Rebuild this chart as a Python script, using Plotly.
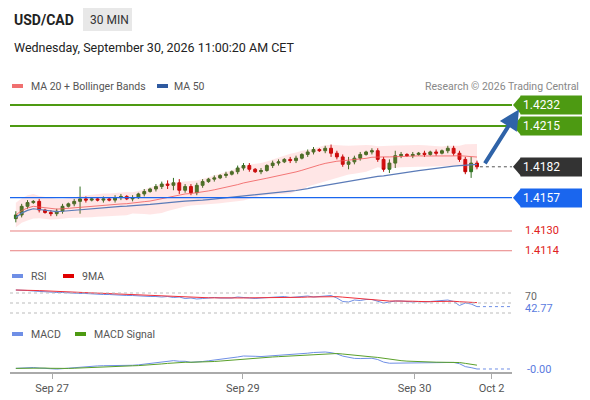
import numpy as np
import pandas as pd
import plotly.graph_objects as go

# closes in pips above 1.4100, one per 30-min candle
closes_pips = [43, 50, 53, 54, 47, 45, 44, 46, 50, 52, 54, 56, 55, 56, 55, 56, 55, 57, 58, 56,
               57, 60, 62, 64, 66, 68, 67, 69, 63, 66, 61, 67, 70, 72, 73, 75, 76, 78, 81, 83,
               80, 78, 79, 83, 85, 86, 88, 87, 89, 92, 94, 96, 95, 97, 93, 90, 84, 86, 89, 92,
               94, 95, 88, 80, 85, 91, 92, 91, 92, 93, 92, 94, 93, 95, 97, 93, 88, 78, 85, 82]
wick_pips = [3, 2, 2, 1, 2, 1, 2, 2, 2, 1, 2, 10, 2, 1, 1, 2, 1, 2, 2, 1,
             2, 1, 2, 1, 2, 2, 3, 4, 3, 2, 2, 2, 2, 1, 2, 1, 2, 1, 2, 2,
             2, 1, 2, 1, 2, 2, 1, 2, 2, 1, 2, 2, 1, 2, 3, 2, 2, 4, 2, 2,
             1, 2, 2, 2, 3, 4, 2, 1, 2, 1, 2, 1, 2, 1, 2, 2, 2, 2, 5, 2]
rsi_vals = [76, 76, 75, 74, 73, 72, 72, 71, 71, 70, 70, 69, 69, 68, 68, 67, 67, 66, 66, 65,
            65, 64, 64, 63, 63, 62, 63, 61, 62, 59, 60, 58, 59, 60, 61, 60, 60, 60, 62, 61,
            60, 59, 60, 61, 62, 62, 63, 61, 62, 63, 64, 62, 63, 64, 65, 60, 53, 52, 56, 55,
            57, 57, 53, 50, 52, 54, 54, 53, 52, 53, 52, 53, 54, 55, 56, 53, 45, 50, 48, 42.77]
tick_pos = [6.2, 38.9, 68.3, 81.5]
tick_text = ["Sep 27", "Sep 29", "Sep 30", "Oct 2"]
level_tags = [1.4232, 1.4215, 1.4182, 1.4157]
red_levels = [1.4130, 1.4114]
last_price = 1.4182
rsi_last = "42.77"


def px(v):
    return (v - 8) / 590


def py(v):
    return 1 - (v - 8) / 400


close = 1.41 + np.array(closes_pips) / 10000
wick = np.array(wick_pips) / 10000
opn = np.concatenate([[close[0] - 0.0003], close[:-1]])
high = np.maximum(opn, close) + wick
low = np.minimum(opn, close) - wick
x = np.arange(len(close))
s = pd.Series(close)

ma20 = s.rolling(20, min_periods=1).mean()
sd20 = s.rolling(20, min_periods=2).std().bfill()
ma50 = s.rolling(50, min_periods=1).mean() - 0.0002
up, dn = ma20 + 2 * sd20, ma20 - 2 * sd20

rsi = pd.Series(rsi_vals)
rsi9 = rsi.rolling(9, min_periods=1).mean()
macd = s.ewm(span=12).mean() - s.ewm(span=26).mean()
sig = macd.ewm(span=9).mean()

# MACD scale: last value near the panel floor, peak a bit above the middle
m_last, m_max = float(macd.iloc[-1]), float(macd.max())
span = (m_max - m_last) / (0.625 - 0.094)
m_lo = m_last - 0.094 * span
m_hi = m_lo + span

fig = go.Figure()
fig.add_trace(go.Scatter(x=x, y=up, line=dict(width=0), hoverinfo="skip"))
fig.add_trace(go.Scatter(x=x, y=dn, line=dict(width=0), fill="tonexty",
                         fillcolor="rgba(255,90,90,0.15)", hoverinfo="skip"))
fig.add_trace(go.Scatter(x=x, y=ma20, line=dict(color="rgba(240,90,90,0.8)", width=1)))
fig.add_trace(go.Scatter(x=x, y=ma50, line=dict(color="#5b7bb8", width=1.2)))
fig.add_trace(go.Candlestick(x=x, open=opn, high=high, low=low, close=close,
                             increasing=dict(line=dict(color="#2f6e1f", width=1), fillcolor="#2f7d1f"),
                             decreasing=dict(line=dict(color="#c00000", width=1), fillcolor="#d00000"),
                             whiskerwidth=0))
fig.add_trace(go.Scatter(x=x, y=rsi, yaxis="y2", line=dict(color="#6f8fe6", width=1)))
fig.add_trace(go.Scatter(x=x, y=rsi9, yaxis="y2", line=dict(color="#f0303a", width=1)))
fig.add_trace(go.Scatter(x=x, y=macd, yaxis="y3", line=dict(color="#6f8fe6", width=1)))
fig.add_trace(go.Scatter(x=x, y=sig, yaxis="y3", line=dict(color="#5aa02a", width=1)))

x0p, x1p = px(10), px(512)
shapes = []
for lv, col, w in [(1.4232, "#4d9a12", 2), (1.4215, "#4d9a12", 2), (1.4157, "#1a66ee", 1.2)]:
    shapes.append(dict(type="line", xref="paper", yref="y", x0=x0p, x1=x1p, y0=lv, y1=lv,
                       line=dict(color=col, width=w)))
for lv in red_levels:
    shapes.append(dict(type="line", xref="paper", yref="y", x0=x0p, x1=x1p, y0=lv, y1=lv,
                       line=dict(color="#e88080", width=1)))
shapes.append(dict(type="line", xref="x", yref="y", x0=len(x) - 0.5, x1=86, y0=last_price, y1=last_price,
                   line=dict(color="#555", width=1, dash="dot")))
for yy in [70, 50, 30]:
    shapes.append(dict(type="line", xref="paper", yref="y2", x0=x0p, x1=x1p, y0=yy, y1=yy,
                       line=dict(color="#bbb", width=1, dash="dot")))
shapes.append(dict(type="line", xref="x", yref="y2", x0=len(x) - 1, x1=85, y0=42.77, y1=42.77,
                   line=dict(color="#6f8fe6", width=1, dash="dot")))
shapes.append(dict(type="line", xref="x", yref="y3", x0=len(x) - 1, x1=85, y0=m_last, y1=m_last,
                   line=dict(color="#6f8fe6", width=1, dash="dot")))
# 30 MIN box
shapes.append(dict(type="rect", xref="paper", yref="paper", x0=px(83), x1=px(132), y0=py(31), y1=py(8),
                   fillcolor="#e8e8e8", line=dict(width=0)))

anns = [
    dict(x=px(12), y=py(20), text="<b>USD/CAD</b>", font=dict(size=14, color="#222")),
    dict(x=px(88), y=py(20), text="30 MIN", font=dict(size=12, color="#333")),
    dict(x=px(12), y=py(47), text="Wednesday, September 30, 2026 11:00:20 AM CET", font=dict(size=12.5, color="#222")),
    dict(x=px(29), y=py(86), text="MA 20 + Bollinger Bands", font=dict(size=10.5, color="#555")),
    dict(x=px(172), y=py(86), text="MA 50", font=dict(size=10.5, color="#555")),
    dict(x=px(581), y=py(86), text="Research © 2026 Trading Central", xanchor="right", font=dict(size=10.5, color="#888")),
    dict(x=px(29), y=py(276), text="RSI", font=dict(size=10.5, color="#555")),
    dict(x=px(80), y=py(276), text="9MA", font=dict(size=10.5, color="#555")),
    dict(x=px(29), y=py(334), text="MACD", font=dict(size=10.5, color="#555")),
    dict(x=px(92), y=py(334), text="MACD Signal", font=dict(size=10.5, color="#555")),
    dict(x=px(523), y=py(296), text="70", font=dict(size=10.5, color="#666")),
    dict(x=px(523), y=py(308), text=rsi_last, font=dict(size=11, color="#5b7be0")),
    dict(x=px(525), y=py(369), text="-0.00", font=dict(size=11, color="#5b7be0")),
]
for a in anns:
    a.update(xref="paper", yref="paper", xanchor=a.get("xanchor", "left"), yanchor="middle", showarrow=False)
# legend swatches
for sx, sy, col in [(12, 86, "#f07070"), (157, 86, "#2f5aa0"), (12, 276, "#6f8fe6"), (63, 276, "#e00000"),
                    (12, 334, "#6f8fe6"), (75, 334, "#4d9a12")]:
    shapes.append(dict(type="rect", xref="paper", yref="paper", x0=px(sx), x1=px(sx + 11),
                       y0=py(sy + 2), y1=py(sy - 2), fillcolor=col, line=dict(width=0)))

tag_cols = ["#4d9a12", "#4d9a12", "#333333", "#1a66ee"]
for lv, col in zip(level_tags, tag_cols):
    anns.append(dict(x=px(520), y=lv, xref="paper", yref="y", text=f"{lv:.4f}", showarrow=False,
                     xanchor="left", yanchor="middle", bgcolor=col, width=58, height=14, align="left",
                     font=dict(color="white", size=12), borderpad=2))
    shapes.append(dict(type="path", xref="paper", yref="y",
                       path=f"M {px(521)} {lv + 0.00075} L {px(513)} {lv} L {px(521)} {lv - 0.00075} Z",
                       fillcolor=col, line=dict(width=0)))
for lv in red_levels:
    anns.append(dict(x=px(523), y=lv, xref="paper", yref="y", text=f"{lv:.4f}", showarrow=False,
                     xanchor="left", yanchor="middle", font=dict(color="#e02020", size=11)))
anns.append(dict(x=86.2, y=1.42285, ax=80.2, ay=1.41835, xref="x", yref="y", axref="x", ayref="y",
                 text="", showarrow=True, arrowhead=2, arrowsize=1, arrowwidth=4, arrowcolor="#2f63a8"))

fig.update_layout(
    width=590, height=400, margin=dict(l=0, r=0, t=0, b=0),
    paper_bgcolor="white", plot_bgcolor="white", showlegend=False,
    font=dict(family="Roboto, Arial, sans-serif"),
    xaxis=dict(domain=[x0p, x1p], range=[-1, 85], anchor="y3", rangeslider=dict(visible=False),
               showgrid=False, zeroline=False, showline=True, linecolor="#aaa", linewidth=2,
               ticks="outside", tickcolor="#aaa", ticklen=5, tickvals=tick_pos, ticktext=tick_text,
               tickfont=dict(size=11, color="#555")),
    yaxis=dict(domain=[py(260), py(90)], range=[1.41065, 1.42442], visible=False),
    yaxis2=dict(domain=[py(318), py(285)], range=[20, 86], visible=False),
    yaxis3=dict(domain=[py(372), py(340)], visible=False, range=[m_lo, m_hi]),
    shapes=shapes, annotations=anns,
)
fig.write_html("out.html")
